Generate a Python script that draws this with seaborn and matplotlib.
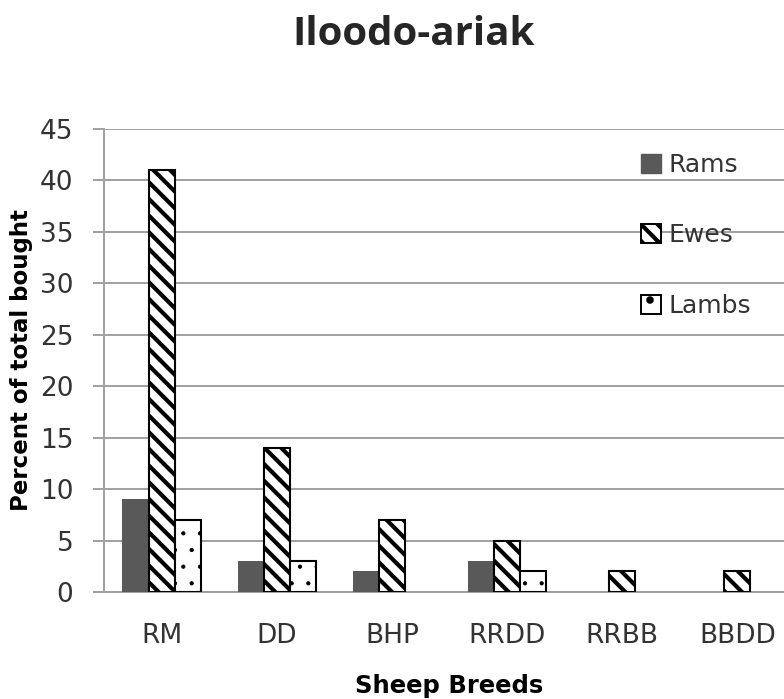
import matplotlib
matplotlib.use("Agg")
import matplotlib.pyplot as plt
from matplotlib.patches import Patch
import seaborn as sns
import pandas as pd

breeds = ["RM", "DD", "BHP", "RRDD", "RRBB", "BBDD"]
rams = [9, 3, 2, 3, 0, 0]
ewes = [41, 14, 7, 5, 2, 2]
lambs = [7, 3, 0, 2, 0, 0]
series = ["Rams", "Ewes", "Lambs"]
y_ticks = [0, 5, 10, 15, 20, 25, 30, 35, 40, 45]

df = pd.DataFrame({
    "breed": breeds * 3,
    "group": ["Rams"] * 6 + ["Ewes"] * 6 + ["Lambs"] * 6,
    "pct": rams + ewes + lambs,
})

sns.set_style("white")
plt.rcParams["font.family"] = ["DejaVu Sans"]
plt.rcParams["hatch.linewidth"] = 3.0
plt.rcParams["hatch.color"] = "black"

TEXT = "#333333"
GRID = "#a0a0a0"

fig = plt.figure(figsize=(7.84, 6.99), dpi=100)
ax = fig.add_axes([104 / 784, 107 / 699, (795 - 104) / 784, 463 / 699])

sns.barplot(data=df, x="breed", y="pct", hue="group", order=breeds,
            hue_order=series, width=0.68, gap=0, ax=ax, legend=False,
            errorbar=None, saturation=1)

styles = {
    "Rams": dict(facecolor="#595959", edgecolor="#595959", hatch=None, lw=0, hlw=3.0),
    "Ewes": dict(facecolor="white", edgecolor="black", hatch="\\\\", lw=1.5, hlw=3.0),
    "Lambs": dict(facecolor="white", edgecolor="black", hatch=".", lw=1.5, hlw=0.6),
}
for name, cont in zip(series, ax.containers):
    st = styles[name]
    for bar in cont:
        bar.set_facecolor(st["facecolor"])
        bar.set_edgecolor(st["edgecolor"])
        bar.set_hatch(st["hatch"])
        if hasattr(bar, "set_hatch_linewidth"):
            bar.set_hatch_linewidth(st["hlw"])
        bar.set_linewidth(st["lw"] if bar.get_height() > 0 else 0)
        bar.set_zorder(3)

ax.set_ylim(0, 45)
ax.set_yticks(y_ticks)
ax.set_xlim(-0.5, len(breeds) - 0.5)
ax.yaxis.grid(True, color=GRID, linewidth=1.4, zorder=0)
ax.set_axisbelow(True)
for side in ["top", "right"]:
    ax.spines[side].set_visible(False)
for side in ["left", "bottom"]:
    ax.spines[side].set_color(GRID)
    ax.spines[side].set_linewidth(1.4)
ax.tick_params(axis="y", which="major", left=True, length=8, width=1.4,
               color=GRID, labelsize=19, labelcolor=TEXT, pad=14)
ax.tick_params(axis="x", bottom=False, length=0, labelsize=19,
               labelcolor=TEXT, pad=22)

ax.set_ylabel("Percent of total bought", fontsize=16.5, fontweight="bold",
              color="black")
ax.yaxis.set_label_coords(-71 / 691, 0.5)
ax.set_xlabel("Sheep Breeds", fontsize=17.5, fontweight="bold", color="black")
ax.xaxis.set_label_coords((449 - 104) / 691, -(674 - 592) / 463)

fig.text(414 / 784, 1 - 45 / 699, "Iloodo-ariak", fontsize=29,
         fontweight="bold", family="Open Sans", ha="center", va="baseline")

leg_handles = [
    Patch(facecolor="#595959", edgecolor="#595959"),
    Patch(facecolor="white", edgecolor="black", hatch="\\\\", linewidth=1.4),
    Patch(facecolor="white", edgecolor="black", hatch=".", linewidth=1.4),
]
if hasattr(leg_handles[2], "set_hatch_linewidth"):
    leg_handles[2].set_hatch_linewidth(0.6)
fig.legend(leg_handles, series, loc="upper left",
           bbox_to_anchor=(641 / 784, 1 - 153 / 699), frameon=False,
           fontsize=18, handlelength=0.8, handleheight=0.8, handletextpad=0.3,
           labelspacing=1.86, borderpad=0, borderaxespad=0, labelcolor=TEXT)

fig.savefig("out.png", dpi=100)
